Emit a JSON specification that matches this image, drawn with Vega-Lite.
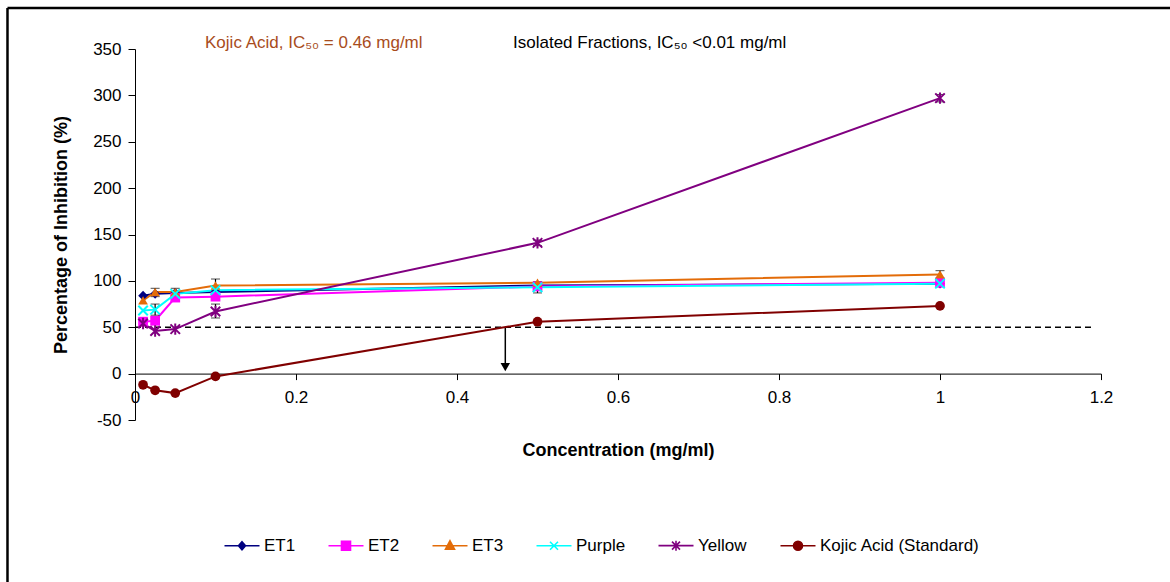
{
  "$schema": "https://vega.github.io/schema/vega-lite/v6.json",
  "width": 966,
  "height": 371,
  "autosize": "none",
  "padding": {"left": 135, "top": 49, "right": 69, "bottom": 162},
  "background": "white",
  "config": {
    "view": {"stroke": null},
    "font": "Liberation Sans",
    "axis": {
      "domainColor": "black",
      "tickColor": "black",
      "labelColor": "black",
      "titleColor": "black",
      "labelFont": "Liberation Sans",
      "titleFont": "Liberation Sans",
      "labelFontSize": 17,
      "titleFontSize": 18,
      "titleFontWeight": "bold",
      "grid": false,
      "domainWidth": 1,
      "tickWidth": 1
    }
  },
  "datasets": {
    "series": [
      {"series": "ET1", "conc": 0.01, "inh": 84},
      {"series": "ET1", "conc": 0.025, "inh": 86},
      {"series": "ET1", "conc": 0.05, "inh": 87},
      {"series": "ET1", "conc": 0.1, "inh": 88},
      {"series": "ET1", "conc": 0.5, "inh": 95},
      {"series": "ET1", "conc": 1.0, "inh": 97},
      {"series": "ET2", "conc": 0.01, "inh": 56},
      {"series": "ET2", "conc": 0.025, "inh": 57},
      {"series": "ET2", "conc": 0.05, "inh": 82},
      {"series": "ET2", "conc": 0.1, "inh": 83},
      {"series": "ET2", "conc": 0.5, "inh": 94},
      {"series": "ET2", "conc": 1.0, "inh": 98},
      {"series": "ET3", "conc": 0.01, "inh": 79},
      {"series": "ET3", "conc": 0.025, "inh": 88},
      {"series": "ET3", "conc": 0.05, "inh": 88},
      {"series": "ET3", "conc": 0.1, "inh": 95},
      {"series": "ET3", "conc": 0.5, "inh": 98},
      {"series": "ET3", "conc": 1.0, "inh": 107},
      {"series": "Purple", "conc": 0.01, "inh": 68},
      {"series": "Purple", "conc": 0.025, "inh": 69},
      {"series": "Purple", "conc": 0.05, "inh": 86},
      {"series": "Purple", "conc": 0.1, "inh": 90},
      {"series": "Purple", "conc": 0.5, "inh": 93},
      {"series": "Purple", "conc": 1.0, "inh": 97},
      {"series": "Yellow", "conc": 0.01, "inh": 54},
      {"series": "Yellow", "conc": 0.025, "inh": 46},
      {"series": "Yellow", "conc": 0.05, "inh": 48},
      {"series": "Yellow", "conc": 0.1, "inh": 67},
      {"series": "Yellow", "conc": 0.5, "inh": 141},
      {"series": "Yellow", "conc": 1.0, "inh": 297},
      {"series": "Kojic Acid (Standard)", "conc": 0.01, "inh": -12},
      {"series": "Kojic Acid (Standard)", "conc": 0.025, "inh": -18},
      {"series": "Kojic Acid (Standard)", "conc": 0.05, "inh": -21},
      {"series": "Kojic Acid (Standard)", "conc": 0.1, "inh": -3},
      {"series": "Kojic Acid (Standard)", "conc": 0.5, "inh": 56},
      {"series": "Kojic Acid (Standard)", "conc": 1.0, "inh": 73}
    ],
    "errors": [
      {"conc": 0.025, "lo": 83, "hi": 92},
      {"conc": 0.05, "lo": 84, "hi": 92},
      {"conc": 0.1, "lo": 89, "hi": 102},
      {"conc": 0.1, "lo": 60, "hi": 75},
      {"conc": 0.025, "lo": 63, "hi": 75},
      {"conc": 0.5, "lo": 87, "hi": 99},
      {"conc": 0.5, "lo": 138, "hi": 144},
      {"conc": 1.0, "lo": 103, "hi": 111},
      {"conc": 1.0, "lo": 293, "hi": 301}
    ],
    "refline": [{"x": 0, "x2": 1.19, "y": 50}],
    "arrow": [{"x": 0.46, "y": 50, "y2": 11, "tip": 7}],
    "frame": [
      {"x": -0.1584, "x2": 1.3, "y": 394.2, "y2": 394.2},
      {"x": -0.1584, "x2": -0.1584, "y": 394.2, "y2": -230}
    ],
    "notes": [
      {"x": 0.087, "y": 356.5, "label": "Kojic Acid, IC₅₀ = 0.46 mg/ml", "kind": "kojic"},
      {"x": 0.4696, "y": 356.5, "label": "Isolated Fractions, IC₅₀ <0.01 mg/ml", "kind": "fractions"}
    ]
  },
  "encoding": {
    "x": {
      "type": "quantitative",
      "title": "Concentration (mg/ml)",
      "scale": {"domain": [0, 1.2], "nice": false},
      "axis": {"values": [0, 0.2, 0.4, 0.6, 0.8, 1, 1.2], "labelExpr": "datum.value + ''", "offset": -46.4, "tickSize": 6, "labelPadding": 10, "titlePadding": 36, "labelFlush": false, "labelOverlap": false}
    },
    "y": {
      "type": "quantitative",
      "title": "Percentage of Inhibition (%)",
      "scale": {"domain": [-50, 350], "nice": false},
      "axis": {"values": [-50, 0, 50, 100, 150, 200, 250, 300, 350], "labelExpr": "datum.value + ''", "tickSize": 7, "labelPadding": 7, "titlePadding": 22}
    }
  },
  "resolve": {"legend": {"color": "independent", "shape": "independent"}},
  "layer": [
    {
      "data": {"name": "frame"},
      "mark": {"type": "rule", "color": "black", "strokeWidth": 2.5, "clip": false},
      "encoding": {
        "x": {"field": "x", "type": "quantitative"},
        "x2": {"field": "x2"},
        "y": {"field": "y", "type": "quantitative"},
        "y2": {"field": "y2"}
      }
    },
    {
      "data": {"name": "refline"},
      "mark": {"type": "rule", "color": "black", "strokeWidth": 1.5, "strokeDash": [6, 4]},
      "encoding": {
        "x": {"field": "x", "type": "quantitative"},
        "x2": {"field": "x2"},
        "y": {"field": "y", "type": "quantitative"}
      }
    },
    {
      "data": {"name": "arrow"},
      "mark": {"type": "rule", "color": "black", "strokeWidth": 1.5},
      "encoding": {
        "x": {"field": "x", "type": "quantitative"},
        "y": {"field": "y", "type": "quantitative"},
        "y2": {"field": "y2"}
      }
    },
    {
      "data": {"name": "arrow"},
      "mark": {"type": "point", "shape": "triangle-down", "filled": true, "color": "black", "size": 90, "opacity": 1},
      "encoding": {
        "x": {"field": "x", "type": "quantitative"},
        "y": {"field": "tip", "type": "quantitative"}
      }
    },
    {
      "data": {"name": "series"},
      "mark": {"type": "line", "strokeWidth": 2},
      "encoding": {
        "x": {"field": "conc", "type": "quantitative"},
        "y": {"field": "inh", "type": "quantitative"},
        "color": {
          "field": "series", "type": "nominal",
          "scale": {
            "domain": ["ET1", "ET2", "ET3", "Purple", "Yellow", "Kojic Acid (Standard)"],
            "range": ["#000080", "#FF00FF", "#E36C09", "#00FFFF", "#800080", "#800000"]
          },
          "legend": {
            "orient": "none",
            "legendX": 98.5,
            "legendY": 488,
            "direction": "horizontal",
            "title": null,
            "padding": 0,
            "symbolSize": 100,
            "labelFontSize": 17,
            "labelFont": "Liberation Sans",
            "labelColor": "black",
            "labelLimit": 300,
            "labelOffset": 13.5,
            "columnPadding": 29,
            "values": ["ET1", "ET2", "ET3", "Purple", "Yellow", "Kojic Acid (Standard)"],
            "encode": {
              "symbols": {
                "update": {
                  "shape": {"signal": "datum.value === 'ET1' ? 'M-3.5,0H3.5M0,-0.8L0.7,0L0,0.8L-0.7,0Z' : datum.value === 'ET2' ? 'M-3.5,0H3.5M-0.9,-0.9H0.9V0.9H-0.9Z' : datum.value === 'ET3' ? 'M-3.5,0H3.5M0,-1L0.9,0.7H-0.9Z' : datum.value === 'Purple' ? 'M-3.5,0H3.5M-0.8,-0.8L0.8,0.8M-0.8,0.8L0.8,-0.8' : datum.value === 'Yellow' ? 'M-3.5,0H3.5M-0.8,-0.8L0.8,0.8M-0.8,0.8L0.8,-0.8M0,-1V1' : 'M-3.5,0H3.5M0.9,0A0.9,0.9,0,1,1,-0.9,0A0.9,0.9,0,1,1,0.9,0Z'"},
                  "stroke": {"scale": "color", "field": "value"},
                  "fill": {"signal": "(datum.value === 'Purple' || datum.value === 'Yellow') ? 'transparent' : scale('color', datum.value)"},
                  "strokeWidth": {"value": 1.6},
                  "opacity": {"value": 1}
                }
              }
            }
          }
        },
        "order": {"field": "conc", "type": "quantitative"}
      }
    },
    {
      "data": {"name": "errors"},
      "mark": {"type": "errorbar", "ticks": {"size": 9, "color": "black", "strokeWidth": 1.5}, "rule": {"color": "black", "strokeWidth": 1.2}},
      "encoding": {
        "x": {"field": "conc", "type": "quantitative"},
        "y": {"field": "lo", "type": "quantitative"},
        "y2": {"field": "hi"}
      }
    },
    {
      "data": {"name": "series"},
      "transform": [{"filter": {"field": "series", "oneOf": ["ET1", "ET2", "ET3", "Kojic Acid (Standard)"]}}],
      "mark": {"type": "point", "filled": true, "opacity": 1, "size": 95},
      "encoding": {
        "x": {"field": "conc", "type": "quantitative"},
        "y": {"field": "inh", "type": "quantitative"},
        "color": {"field": "series", "type": "nominal", "legend": null},
        "shape": {
          "field": "series", "type": "nominal",
          "scale": {
            "domain": ["ET1", "ET2", "ET3", "Purple", "Yellow", "Kojic Acid (Standard)"],
            "range": ["diamond", "square", "triangle-up", "M-1,-1L1,1M-1,1L1,-1", "M-1,-1L1,1M-1,1L1,-1M0,-1.2L0,1.2", "circle"]
          },
          "legend": null
        }
      }
    },
    {
      "data": {"name": "series"},
      "transform": [{"filter": {"field": "series", "oneOf": ["Purple", "Yellow"]}}],
      "mark": {"type": "point", "filled": false, "opacity": 1, "size": 90, "strokeWidth": 2},
      "encoding": {
        "x": {"field": "conc", "type": "quantitative"},
        "y": {"field": "inh", "type": "quantitative"},
        "color": {"field": "series", "type": "nominal", "legend": null},
        "shape": {"field": "series", "type": "nominal", "legend": null}
      }
    },
    {
      "data": {"name": "notes"},
      "transform": [{"filter": {"field": "kind", "equal": "kojic"}}],
      "mark": {"type": "text", "align": "left", "baseline": "middle", "fontSize": 17, "font": "Liberation Sans", "color": "#A84C1C", "clip": false},
      "encoding": {
        "x": {"field": "x", "type": "quantitative"},
        "y": {"field": "y", "type": "quantitative"},
        "text": {"field": "label"}
      }
    },
    {
      "data": {"name": "notes"},
      "transform": [{"filter": {"field": "kind", "equal": "fractions"}}],
      "mark": {"type": "text", "align": "left", "baseline": "middle", "fontSize": 17, "font": "Liberation Sans", "color": "#000000", "clip": false},
      "encoding": {
        "x": {"field": "x", "type": "quantitative"},
        "y": {"field": "y", "type": "quantitative"},
        "text": {"field": "label"}
      }
    }
  ]
}
